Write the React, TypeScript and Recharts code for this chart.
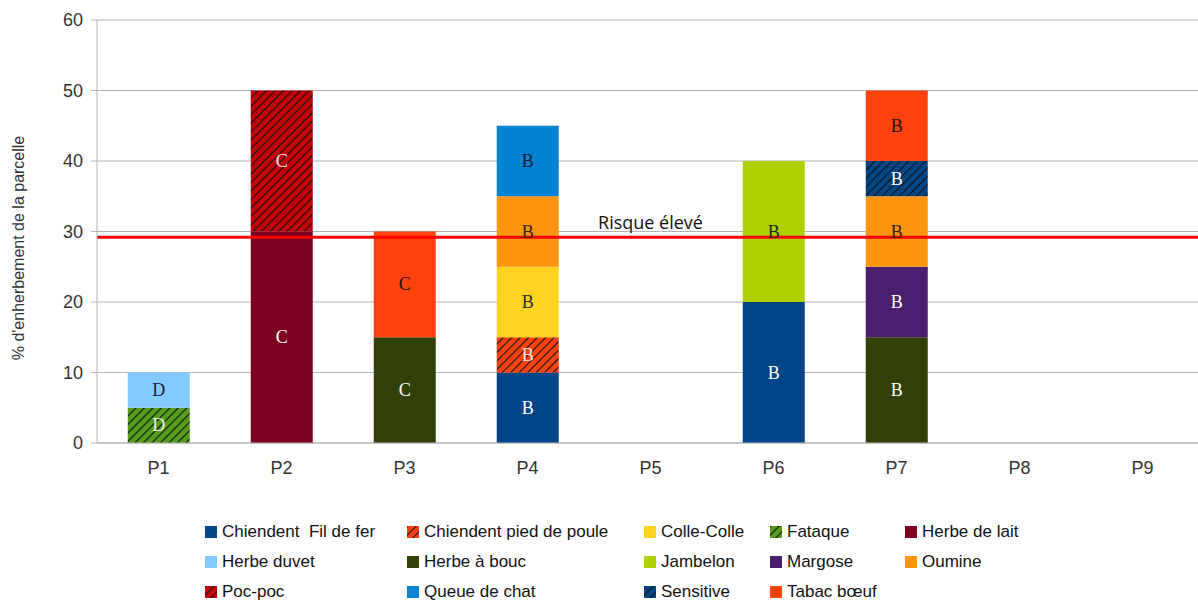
import { BarChart, Bar, XAxis, YAxis, CartesianGrid, Legend, ReferenceLine, LabelList } from 'recharts';

const categories = ['P1', 'P2', 'P3', 'P4', 'P5', 'P6', 'P7', 'P8', 'P9'];
const riskClass = ['D', 'C', 'C', 'B', '', 'B', 'B', '', ''];

const chiendentFilDeFer = [0, 0, 0, 10, 0, 20, 0, 0, 0];
const chiendentPiedDePoule = [0, 0, 0, 5, 0, 0, 0, 0, 0];
const colleColle = [0, 0, 0, 10, 0, 0, 0, 0, 0];
const fataque = [5, 0, 0, 0, 0, 0, 0, 0, 0];
const herbeDeLait = [0, 30, 0, 0, 0, 0, 0, 0, 0];
const herbeDuvet = [5, 0, 0, 0, 0, 0, 0, 0, 0];
const herbeABouc = [0, 0, 15, 0, 0, 0, 15, 0, 0];
const jambelon = [0, 0, 0, 0, 0, 20, 0, 0, 0];
const margose = [0, 0, 0, 0, 0, 0, 10, 0, 0];
const oumine = [0, 0, 0, 10, 0, 0, 10, 0, 0];
const pocPoc = [0, 20, 0, 0, 0, 0, 0, 0, 0];
const queueDeChat = [0, 0, 0, 10, 0, 0, 0, 0, 0];
const sensitive = [0, 0, 0, 0, 0, 0, 5, 0, 0];
const tabacBoeuf = [0, 0, 15, 0, 0, 0, 10, 0, 0];

const yTicks = [0, 10, 20, 30, 40, 50, 60];
const riskThreshold = 29.2;

type Serie = { key: string; name: string; values: number[]; color: string; hatch: boolean; text: string };

const series: Serie[] = [
  { key: 's0', name: 'Chiendent  Fil de fer', values: chiendentFilDeFer, color: '#004586', hatch: false, text: '#ffffff' },
  { key: 's1', name: 'Chiendent pied de poule', values: chiendentPiedDePoule, color: '#ff420e', hatch: true, text: '#f4e6e0' },
  { key: 's2', name: 'Colle-Colle', values: colleColle, color: '#ffd320', hatch: false, text: '#2a2a3a' },
  { key: 's3', name: 'Fataque', values: fataque, color: '#579d1c', hatch: true, text: '#eef2e0' },
  { key: 's4', name: 'Herbe de lait', values: herbeDeLait, color: '#7e0021', hatch: false, text: '#ffffff' },
  { key: 's5', name: 'Herbe duvet', values: herbeDuvet, color: '#83caff', hatch: false, text: '#1a1a40' },
  { key: 's6', name: 'Herbe à bouc', values: herbeABouc, color: '#314004', hatch: false, text: '#ffffff' },
  { key: 's7', name: 'Jambelon', values: jambelon, color: '#aecf00', hatch: false, text: '#2a2a2a' },
  { key: 's8', name: 'Margose', values: margose, color: '#4b1f6f', hatch: false, text: '#ffffff' },
  { key: 's9', name: 'Oumine', values: oumine, color: '#ff950e', hatch: false, text: '#3a2010' },
  { key: 's10', name: 'Poc-poc', values: pocPoc, color: '#c5000b', hatch: true, text: '#f6e6e6' },
  { key: 's11', name: 'Queue de chat', values: queueDeChat, color: '#0084d1', hatch: false, text: '#1a1a3a' },
  { key: 's12', name: 'Sensitive', values: sensitive, color: '#004586', hatch: true, text: '#ffffff' },
  { key: 's13', name: 'Tabac bœuf', values: tabacBoeuf, color: '#ff420e', hatch: false, text: '#2a1008' },
];

const data = categories.map((cat, i) => {
  const row: Record<string, string | number> = { cat, cls: riskClass[i] };
  series.forEach((s) => {
    row[s.key] = s.values[i];
  });
  return row;
});

const legendCols = [202, 237, 126, 135, 160];

function HatchDef({ id, color }: { id: string; color: string }) {
  return (
    <pattern id={id} patternUnits="userSpaceOnUse" width={6} height={6} patternTransform="rotate(45)">
      <rect width={6} height={6} fill={color} />
      <line x1={0} y1={0} x2={0} y2={6} stroke="#111" strokeWidth={2.2} />
    </pattern>
  );
}

function ChartLegend() {
  return (
    <div
      style={{
        height: 95,
        paddingLeft: 205,
        paddingTop: 5,
        boxSizing: 'border-box',
        display: 'grid',
        gridTemplateColumns: legendCols.map((c) => `${c}px`).join(' '),
        gridAutoRows: '30px',
        fontFamily: '"Liberation Sans", Arial, sans-serif',
        fontSize: 17,
        color: '#111',
      }}
    >
      {series.map((s) => (
        <div key={s.key} style={{ display: 'flex', alignItems: 'center', whiteSpace: 'pre' }}>
          <svg width={12} height={12} style={{ marginRight: 5 }}>
            {s.hatch && (
              <defs>
                <HatchDef id={`lg-${s.key}`} color={s.color} />
              </defs>
            )}
            <rect width={12} height={12} fill={s.hatch ? `url(#lg-${s.key})` : s.color} />
          </svg>
          <span>{s.name}</span>
        </div>
      ))}
    </div>
  );
}

function makeLabel(s: Serie) {
  return (props: any) => {
    const { x, y, width, height, value } = props;
    if (!value || !height || Math.abs(height) < 1) return null;
    return (
      <text
        x={x + width / 2}
        y={y + height / 2}
        textAnchor="middle"
        dominantBaseline="central"
        fontFamily='"Liberation Serif", "DejaVu Serif", serif'
        fontSize={18}
        fill={s.text}
      >
        {value}
      </text>
    );
  };
}

export default function App() {
  return (
    <div style={{ position: 'fixed', left: 0, top: 0, width: 1198, height: 607, overflow: 'hidden', background: '#fff' }}>
      <BarChart
        width={1204}
        height={607}
        data={data}
        margin={{ top: 20, right: 0, left: 0, bottom: 0 }}
        barCategoryGap="25%"
      >
        <defs>
          {series.filter((s) => s.hatch).map((s) => (
            <HatchDef key={s.key} id={`h-${s.key}`} color={s.color} />
          ))}
        </defs>
        <CartesianGrid vertical={false} stroke="#b3b3b3" />
        <XAxis
          dataKey="cat"
          height={69}
          stroke="#b3b3b3"
          tickLine={false}
          tickSize={6}
          tickMargin={12}
          tick={{ fill: '#333', fontSize: 18, fontFamily: '"Liberation Sans", Arial, sans-serif' }}
        />
        <YAxis
          width={97}
          domain={[0, 60]}
          ticks={yTicks}
          stroke="#b3b3b3"
          tickSize={6}
          tickMargin={8}
          tick={{ fill: '#333', fontSize: 18, fontFamily: '"Liberation Sans", Arial, sans-serif' }}
          label={() => (
            <text
              x={18}
              y={248}
              transform="rotate(-90 18 248)"
              textAnchor="middle"
              dominantBaseline="central"
              fontSize={16}
              fill="#333"
              fontFamily='"Liberation Sans", Arial, sans-serif'
            >
              % d'enherbement de la parcelle
            </text>
          )}
        />
        {series.map((s) => (
          <Bar
            key={s.key}
            dataKey={s.key}
            name={s.name}
            stackId="a"
            fill={s.hatch ? `url(#h-${s.key})` : s.color}
            isAnimationActive={false}
          >
            <LabelList dataKey="cls" content={makeLabel(s)} />
          </Bar>
        ))}
        <ReferenceLine
          y={riskThreshold}
          stroke="#ff0000"
          strokeWidth={3}
          label={{
            value: 'Risque élevé',
            position: 'top',
            offset: 8,
            fill: '#111',
            fontSize: 18,
            fontFamily: '"Open Sans", sans-serif',
          }}
        />
        <Legend verticalAlign="bottom" content={() => <ChartLegend />} />
      </BarChart>
    </div>
  );
}
